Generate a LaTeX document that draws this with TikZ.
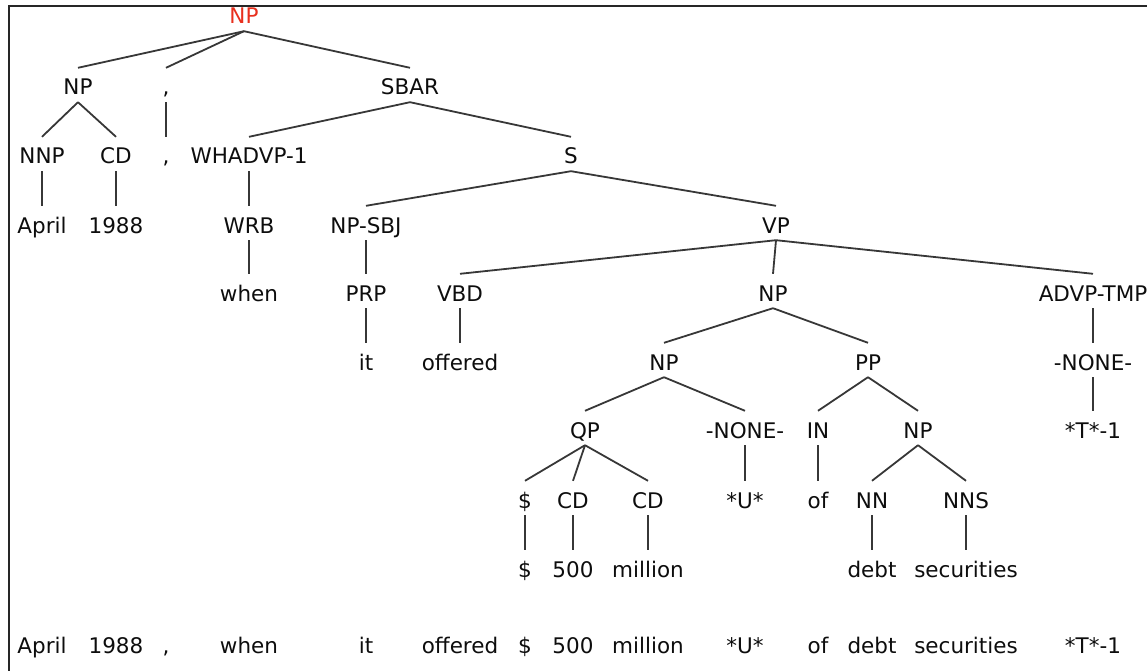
\documentclass[tikz,border=0pt]{standalone}
\usepackage{fontspec}
\setmainfont{DejaVu Sans}
\definecolor{rootred}{RGB}{232,48,30}
\definecolor{edgegray}{RGB}{55,55,55}
\begin{document}
\begin{tikzpicture}[x=1pt,y=-1pt,
  lab/.style={anchor=base, inner xsep=0pt, inner ysep=0pt,
    text height=27pt, text depth=7pt,
    font=\fontsize{21.5}{25}\selectfont, text=black!95},
  edge/.style={draw=edgegray, line width=1.8pt}]
\useasboundingbox (0,0) rectangle (1147,671);
% window frame
\draw[line width=2pt, black!85] (8.5,672) -- (8.5,6.5) -- (1148,6.5);

% level 0
\node[lab, text=rootred] (root) at (244,24) {NP};
% level 1
\node[lab] (np1)  at (78,95)  {NP};
\node[lab] (cm1)  at (166,95) {,};
\node[lab] (sbar) at (410,95) {SBAR};
% level 2
\node[lab] (nnp)  at (42,164)  {NNP};
\node[lab] (cd1)  at (116,164) {CD};
\node[lab] (cm2)  at (166,164) {,};
\node[lab] (whadvp) at (249,164) {WHADVP-1};
\node[lab] (s)    at (571,164) {S};
% level 3
\node[lab] (april) at (42,233)  {April};
\node[lab] (yr)    at (116,233) {1988};
\node[lab] (wrb)   at (249,233) {WRB};
\node[lab] (npsbj) at (366,233) {NP-SBJ};
\node[lab] (vp)    at (776,233) {VP};
% level 4
\node[lab] (when)  at (249,301) {when};
\node[lab] (prp)   at (366,301) {PRP};
\node[lab] (vbd)   at (460,301) {VBD};
\node[lab] (npa)   at (773,301) {NP};
\node[lab] (advp)  at (1093,301) {ADVP-TMP};
% level 5
\node[lab] (wit)   at (366,370) {it};
\node[lab] (woff)  at (460,370) {offered};
\node[lab] (npb)   at (664,370) {NP};
\node[lab] (pp)    at (868,370) {PP};
\node[lab] (nonea) at (1093,370) {-NONE-};
% level 6
\node[lab] (qp)    at (585,438) {QP};
\node[lab] (noneb) at (745,438) {-NONE-};
\node[lab] (inp)   at (818,438) {IN};
\node[lab] (npc)   at (918,438) {NP};
\node[lab] (tr)    at (1093,438) {*T*-1};
% level 7
\node[lab] (dol)   at (525,508) {\$};
\node[lab] (cd2)   at (573,508) {CD};
\node[lab] (cd3)   at (648,508) {CD};
\node[lab] (utr)   at (745,508) {*U*};
\node[lab] (wof)   at (818,508) {of};
\node[lab] (nn)    at (872,508) {NN};
\node[lab] (nns)   at (966,508) {NNS};
% level 8
\node[lab] (wdol)  at (525,577) {\$};
\node[lab] (w500)  at (573,577) {500};
\node[lab] (wmil)  at (648,577) {million};
\node[lab] (wdebt) at (872,577) {debt};
\node[lab] (wsec)  at (966,577) {securities};

% branches
\foreach \p/\c in {root/np1, root/cm1, root/sbar,
    np1/nnp, np1/cd1, cm1/cm2, sbar/whadvp, sbar/s,
    nnp/april, cd1/yr, whadvp/wrb, s/npsbj, s/vp,
    wrb/when, npsbj/prp, vp/vbd, vp/npa, vp/advp,
    prp/wit, vbd/woff, npa/npb, npa/pp, advp/nonea,
    npb/qp, npb/noneb, pp/inp, pp/npc, nonea/tr,
    qp/dol, qp/cd2, qp/cd3, noneb/utr, inp/wof, npc/nn, npc/nns,
    dol/wdol, cd2/w500, cd3/wmil, nn/wdebt, nns/wsec}
  \draw[edge] (\p.south) -- (\c.north);

% sentence line
\node[lab] (t1)  at (42,653)   {April};
\node[lab] (t2)  at (116,653)  {1988};
\node[lab] (t3)  at (166,653)  {,};
\node[lab] (t4)  at (249,653)  {when};
\node[lab] (t5)  at (366,653)  {it};
\node[lab] (t6)  at (460,653)  {offered};
\node[lab] (t7)  at (525,653)  {\$};
\node[lab] (t8)  at (573,653)  {500};
\node[lab] (t9)  at (648,653)  {million};
\node[lab] (t10) at (745,653)  {*U*};
\node[lab] (t11) at (818,653)  {of};
\node[lab] (t12) at (872,653)  {debt};
\node[lab] (t13) at (966,653)  {securities};
\node[lab] (t14) at (1093,653) {*T*-1};
\end{tikzpicture}
\end{document}
